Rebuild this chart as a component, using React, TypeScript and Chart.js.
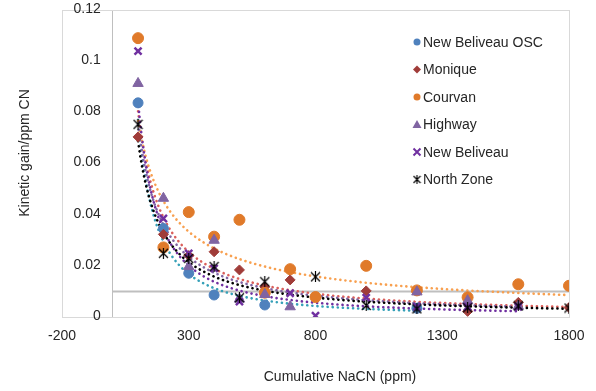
import React, { useEffect, useRef } from 'react';
import { Chart, registerables } from 'chart.js';
Chart.register(...registerables);

const X_TICKS = [-200, 300, 800, 1300, 1800];
const Y_TICKS = [0, 0.02, 0.04, 0.06, 0.08, 0.1, 0.12];
const X_TITLE = 'Cumulative NaCN (ppm)';
const Y_TITLE = 'Kinetic gain/ppm CN';

const SERIES_NAMES = ['New Beliveau OSC', 'Monique', 'Courvan', 'Highway', 'New Beliveau', 'North Zone'];

const nbOscX = [100, 200, 300, 400, 600, 1200];
const nbOscY = [0.0837, 0.0346, 0.0171, 0.0086, 0.0047, 0.0034];

const moniqueX = [100, 200, 300, 400, 500, 600, 700, 800, 1000, 1400, 1600, 1800];
const moniqueY = [0.0704, 0.0323, 0.024, 0.0255, 0.0184, 0.0118, 0.0145, 0.0078, 0.0102, 0.0022, 0.0057, 0.0037];

const courvanX = [100, 200, 300, 400, 500, 600, 700, 800, 1000, 1200, 1400, 1600, 1800];
const courvanY = [0.109, 0.0272, 0.041, 0.0314, 0.038, 0.0095, 0.0187, 0.0078, 0.02, 0.0104, 0.0077, 0.0128, 0.0122];

const highwayX = [100, 200, 300, 400, 500, 600, 700, 1200, 1400, 1600];
const highwayY = [0.0913, 0.0464, 0.0197, 0.03, 0.007, 0.0088, 0.004, 0.0098, 0.0064, 0.0042];

const newBelX = [100, 200, 300, 400, 500, 700, 800, 1000, 1200, 1400, 1600];
const newBelY = [0.1039, 0.0385, 0.0249, 0.019, 0.006, 0.0093, 0.0005, 0.0076, 0.004, 0.004, 0.004];

const northX = [100, 200, 300, 400, 500, 600, 800, 1000, 1200, 1400, 1600, 1800];
const northY = [0.0753, 0.0249, 0.0229, 0.0197, 0.0075, 0.0138, 0.0157, 0.0045, 0.0032, 0.0036, 0.0043, 0.0035];

const thresholdX = [0, 1800];
const thresholdY = [0.01, 0.01];

const FONT = "'Liberation Sans', Arial, sans-serif";
const TEXT = '#262626';

function makeAsterisk(size: number, lw: number): HTMLCanvasElement {
  const c = document.createElement('canvas');
  c.width = size; c.height = size;
  const g = c.getContext('2d')!;
  g.strokeStyle = '#000';
  g.lineWidth = lw;
  const m = 1, s = size - 1;
  g.beginPath();
  g.moveTo(m, m); g.lineTo(s, s);
  g.moveTo(s, m); g.lineTo(m, s);
  g.moveTo(size / 2, 0); g.lineTo(size / 2, size);
  g.stroke();
  return c;
}

function powerFit(xs: number[], ys: number[]) {
  const p = xs.map((x, i) => [Math.log(x), Math.log(ys[i])]).filter(q => isFinite(q[0]) && isFinite(q[1]));
  const n = p.length;
  const mx = p.reduce((s, q) => s + q[0], 0) / n;
  const my = p.reduce((s, q) => s + q[1], 0) / n;
  let sxy = 0, sxx = 0;
  p.forEach(q => { sxy += (q[0] - mx) * (q[1] - my); sxx += (q[0] - mx) ** 2; });
  const b = sxy / sxx;
  const a = Math.exp(my - b * mx);
  return { a, b };
}

function trend(xs: number[], ys: number[]) {
  const { a, b } = powerFit(xs, ys);
  const x0 = Math.min(...xs), x1 = Math.max(...xs);
  const pts: { x: number; y: number }[] = [];
  const N = 200;
  for (let i = 0; i <= N; i++) {
    const x = x0 + (x1 - x0) * i / N;
    pts.push({ x, y: a * Math.pow(x, b) });
  }
  return pts;
}

const pairs = (xs: number[], ys: number[]) => xs.map((x, i) => ({ x, y: ys[i] }));

function drawMarker(ctx: CanvasRenderingContext2D, style: any, x: number, y: number, r: number, color: string) {
  ctx.save();
  ctx.fillStyle = color;
  ctx.strokeStyle = color;
  ctx.beginPath();
  if (style === 'circle') {
    ctx.arc(x, y, r, 0, Math.PI * 2);
    ctx.fill();
  } else if (style === 'rectRot') {
    ctx.moveTo(x, y - r); ctx.lineTo(x + r, y); ctx.lineTo(x, y + r); ctx.lineTo(x - r, y); ctx.closePath();
    ctx.fill();
  } else if (style === 'triangle') {
    ctx.moveTo(x, y - r); ctx.lineTo(x + r, y + r * 0.75); ctx.lineTo(x - r, y + r * 0.75); ctx.closePath();
    ctx.fill();
  } else if (style === 'crossRot') {
    ctx.lineWidth = 2;
    ctx.moveTo(x - r, y - r); ctx.lineTo(x + r, y + r);
    ctx.moveTo(x + r, y - r); ctx.lineTo(x - r, y + r);
    ctx.stroke();
  } else if (style instanceof HTMLCanvasElement) {
    ctx.drawImage(style, x - style.width / 2, y - style.height / 2);
  }
  ctx.restore();
}

export default function App() {
  const ref = useRef<HTMLCanvasElement>(null);
  useEffect(() => {
    const asterisk = makeAsterisk(11, 1.2);
    const asteriskSmall = makeAsterisk(9, 1.1);
    const markerSets = [
      { name: SERIES_NAMES[0], xs: nbOscX, ys: nbOscY, style: 'circle', r: 5, color: '#4F81BD', trend: '#35A0B8', legendStyle: 'circle', lr: 3.5 },
      { name: SERIES_NAMES[1], xs: moniqueX, ys: moniqueY, style: 'rectRot', r: 5, color: '#A03C39', trend: '#DA5F5B', legendStyle: 'rectRot', lr: 4 },
      { name: SERIES_NAMES[2], xs: courvanX, ys: courvanY, style: 'circle', r: 5.5, color: '#E07A2A', trend: '#F8A050', legendStyle: 'circle', lr: 3.5 },
      { name: SERIES_NAMES[3], xs: highwayX, ys: highwayY, style: 'triangle', r: 6, color: '#8064A2', trend: '#8064A2', legendStyle: 'triangle', lr: 4.5 },
      { name: SERIES_NAMES[4], xs: newBelX, ys: newBelY, style: 'crossRot', r: 5, color: '#7030A0', trend: '#7030A0', legendStyle: 'crossRot', lr: 3.5 },
      { name: SERIES_NAMES[5], xs: northX, ys: northY, style: asterisk, r: 5, color: '#000000', trend: '#000000', legendStyle: asteriskSmall, lr: 4 },
    ];

    const datasets: any[] = [];
    markerSets.forEach((s, i) => {
      datasets.push({
        type: 'scatter',
        label: s.name,
        data: pairs(s.xs, s.ys),
        pointStyle: s.style,
        pointRadius: s.r,
        backgroundColor: s.color,
        borderColor: s.color,
        borderWidth: s.style === 'crossRot' ? 2.5 : 1,
        order: 6 - i,
        showLine: false,
      });
    });
    markerSets.forEach((s, i) => {
      datasets.push({
        type: 'line',
        label: s.name + ' trend',
        data: trend(s.xs, s.ys),
        borderColor: s.trend,
        borderWidth: 2.6,
        borderDash: [0.1, 5],
        borderCapStyle: 'round',
        pointRadius: 0,
        fill: false,
        tension: 0,
        order: 20 - i,
      });
    });
    datasets.push({
      type: 'line',
      label: 'threshold',
      data: pairs(thresholdX, thresholdY),
      borderColor: '#BFBFBF',
      borderWidth: 2,
      pointRadius: 0,
      fill: false,
      order: 40,
    });

    const framePlugin = {
      id: 'frame',
      beforeDatasetsDraw(chart: any) {
        const { ctx, chartArea: a } = chart;
        ctx.save();
        ctx.strokeStyle = '#D9D9D9';
        ctx.lineWidth = 1;
        ctx.strokeRect(Math.round(a.left) + 0.5, Math.round(a.top) + 0.5, Math.round(a.right - a.left), Math.round(a.bottom - a.top));
        ctx.restore();
      },
      afterDraw(chart: any) {
        const { ctx } = chart;
        const ys = chart.scales.y;
        const xs = chart.scales.x;
        ctx.save();
        ctx.fillStyle = TEXT;
        ctx.font = `14px ${FONT}`;
        // y tick labels, right-aligned left of the y axis (at x = 0)
        ctx.textAlign = 'right';
        ctx.textBaseline = 'middle';
        const axisX = xs.getPixelForValue(0);
        Y_TICKS.forEach(v => {
          ctx.fillText(String(parseFloat(v.toFixed(2))), axisX - 12, ys.getPixelForValue(v) - 1);
        });
        ctx.textAlign = 'center';
        ctx.fillText(X_TITLE, 340, 377);
        ctx.translate(25, 153);
        ctx.rotate(-Math.PI / 2);
        ctx.fillText(Y_TITLE, 0, 0);
        ctx.restore();

        // legend
        ctx.save();
        ctx.font = `14px ${FONT}`;
        ctx.textAlign = 'left';
        ctx.textBaseline = 'middle';
        markerSets.forEach((s, i) => {
          const y = 42 + i * 27.5;
          drawMarker(ctx, s.legendStyle, 417, y, s.lr, s.color);
          ctx.fillStyle = TEXT;
          ctx.fillText(s.name, 423, y + 1);
        });
        ctx.restore();
      },
    };

    const chart = new Chart(ref.current!, {
      type: 'scatter',
      data: { datasets },
      options: {
        animation: false,
        responsive: false,
        events: [],
        layout: { padding: { left: 62, top: 10, right: 27, bottom: 0 } },
        plugins: { legend: { display: false }, tooltip: { enabled: false } },
        scales: {
          x: {
            type: 'linear',
            position: 'bottom',
            min: -200,
            max: 1800,
            afterBuildTicks: (s: any) => { s.ticks = X_TICKS.map(v => ({ value: v })); },
            afterFit: (s: any) => { s.height = 74; },
            grid: { display: false, drawTicks: false },
            border: { display: true, color: '#D9D9D9' },
            ticks: {
              maxRotation: 0,
              autoSkip: false,
              padding: 11,
              color: TEXT,
              font: { family: FONT, size: 14 },
              callback: (v: any) => String(v),
            },
          },
          y: {
            type: 'linear',
            position: { x: 0 } as any,
            min: 0,
            max: 0.12,
            afterBuildTicks: (s: any) => { s.ticks = Y_TICKS.map(v => ({ value: v })); },
            grid: { display: false, drawTicks: false },
            border: { display: true, color: '#BFBFBF' },
            ticks: { display: false },
          },
        },
      },
      plugins: [framePlugin],
    } as any);
    return () => chart.destroy();
  }, []);
  return (
    <div style={{ position: 'absolute', left: 0, top: 0, width: 596, height: 391, background: '#fff' }}>
      <canvas ref={ref} width={596} height={391} style={{ width: 596, height: 391, display: 'block' }} />
    </div>
  );
}
